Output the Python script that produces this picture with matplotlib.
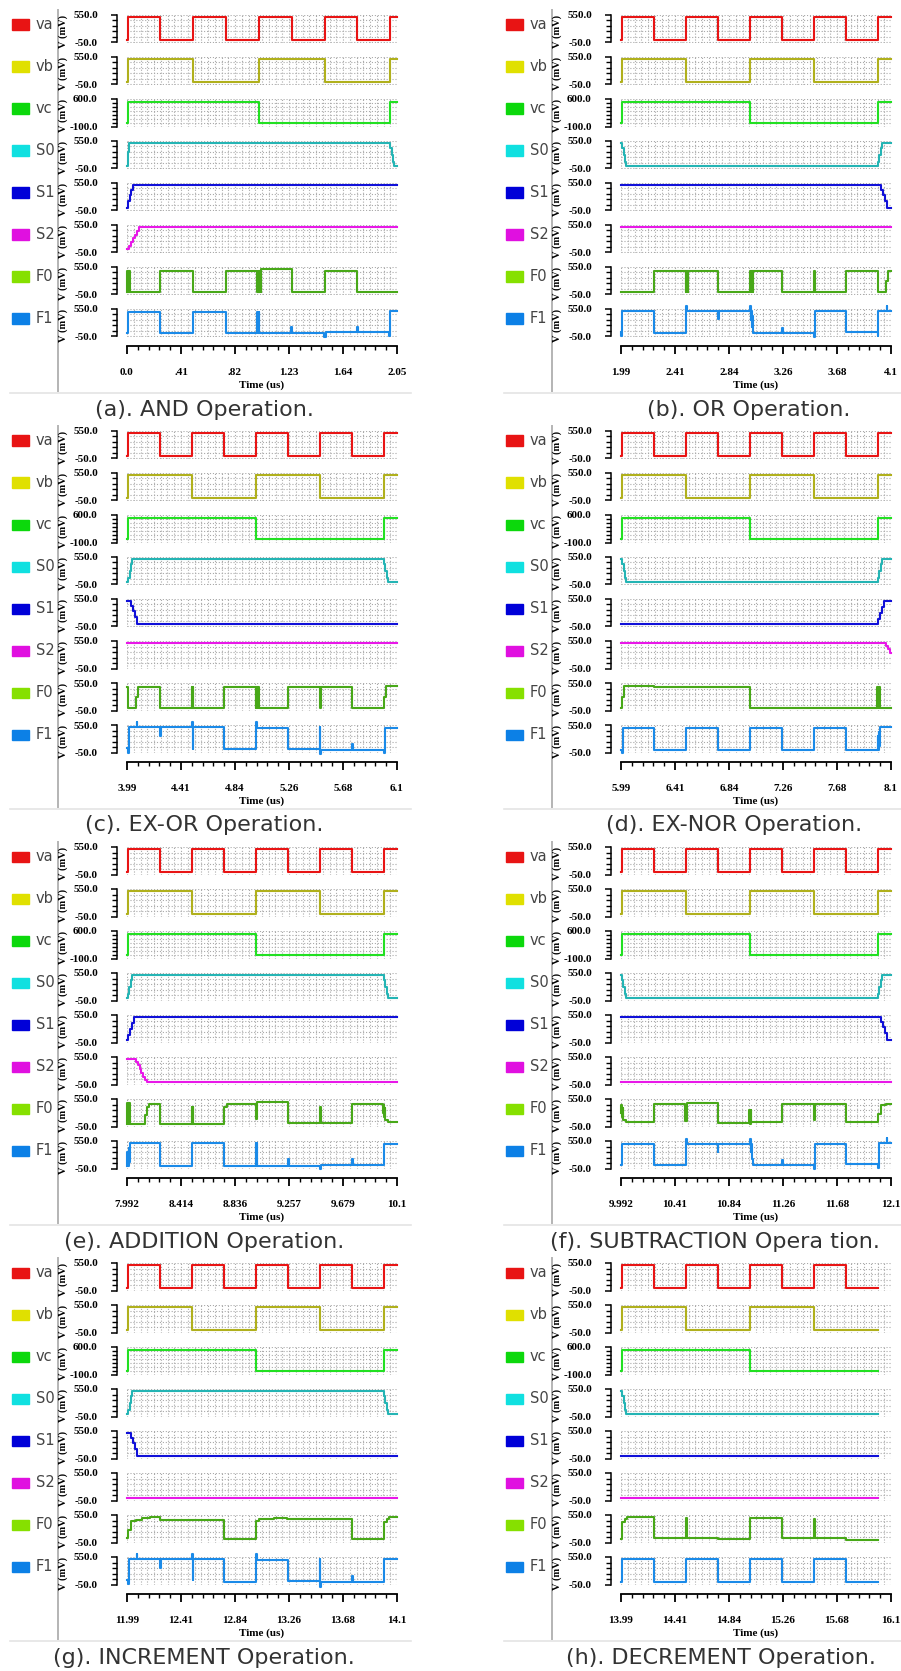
import matplotlib.pyplot as plt
from matplotlib.patches import Rectangle
from matplotlib.lines import Line2D
import numpy as np

W, H = 901, 1671

# ===== waveforms (time in us, level in mV), one continuous run 0..16 us =====
VA = [(0.0, 0), (0.005, 500), (0.25, 0), (0.5, 500), (0.75, 0), (1.0, 500), (1.25, 0), (1.5, 500), (1.75, 0),
      (2.0, 500), (2.25, 0), (2.5, 500), (2.75, 0), (3.0, 500), (3.25, 0), (3.5, 500), (3.75, 0),
      (4.0, 500), (4.25, 0), (4.5, 500), (4.75, 0), (5.0, 500), (5.25, 0), (5.5, 500), (5.75, 0),
      (6.0, 500), (6.25, 0), (6.5, 500), (6.75, 0), (7.0, 500), (7.25, 0), (7.5, 500), (7.75, 0),
      (8.0, 500), (8.25, 0), (8.5, 500), (8.75, 0), (9.0, 500), (9.25, 0), (9.5, 500), (9.75, 0),
      (10.0, 500), (10.25, 0), (10.5, 500), (10.75, 0), (11.0, 500), (11.25, 0), (11.5, 500), (11.75, 0),
      (12.0, 500), (12.25, 0), (12.5, 500), (12.75, 0), (13.0, 500), (13.25, 0), (13.5, 500), (13.75, 0),
      (14.0, 500), (14.25, 0), (14.5, 500), (14.75, 0), (15.0, 500), (15.25, 0), (15.5, 500), (15.75, 0),
      (16.0, 0)]
VB = [(0.0, 0), (0.005, 500), (0.5, 0), (1.0, 500), (1.5, 0), (2.0, 500), (2.5, 0), (3.0, 500), (3.5, 0),
      (4.0, 500), (4.5, 0), (5.0, 500), (5.5, 0), (6.0, 500), (6.5, 0), (7.0, 500), (7.5, 0),
      (8.0, 500), (8.5, 0), (9.0, 500), (9.5, 0), (10.0, 500), (10.5, 0), (11.0, 500), (11.5, 0),
      (12.0, 500), (12.5, 0), (13.0, 500), (13.5, 0), (14.0, 500), (14.5, 0), (15.0, 500), (15.5, 0),
      (16.0, 0)]
VC = [(0.0, 0), (0.005, 520), (1.0, 0), (2.0, 520), (3.0, 0), (4.0, 520), (5.0, 0), (6.0, 520), (7.0, 0),
      (8.0, 520), (9.0, 0), (10.0, 520), (11.0, 0), (12.0, 520), (13.0, 0), (14.0, 520), (15.0, 0),
      (16.0, 0)]
S0 = [(0.0, 0), (0.004, 300), (0.012, 500), (2.0, 400), (2.01, 250), (2.02, 100), (2.03, 0),
      (4.0, 100), (4.01, 250), (4.02, 400), (4.03, 500), (6.0, 400), (6.01, 250), (6.02, 100), (6.03, 0),
      (8.0, 100), (8.01, 250), (8.02, 400), (8.03, 500), (10.0, 400), (10.01, 250), (10.02, 100), (10.03, 0),
      (12.0, 100), (12.01, 250), (12.02, 400), (12.03, 500), (14.0, 400), (14.01, 250), (14.02, 100), (14.03, 0),
      (16.0, 0)]
S1 = [(0.0, 0), (0.01, 150), (0.02, 280), (0.03, 400), (0.045, 500),
      (4.02, 400), (4.035, 280), (4.05, 150), (4.065, 0),
      (8.0, 120), (8.015, 250), (8.03, 380), (8.045, 500),
      (12.02, 400), (12.035, 280), (12.05, 150), (12.065, 0), (16.0, 0)]
S2 = [(0.0, 20), (0.015, 100), (0.03, 180), (0.045, 260), (0.06, 340), (0.075, 420), (0.09, 500),
      (8.06, 450), (8.075, 370), (8.09, 280), (8.105, 200), (8.12, 120), (8.135, 50), (8.15, 0), (16.0, 0)]
F0 = [(0.0, 0), (0.002, 470), (0.006, 0), (0.01, 470), (0.014, 0), (0.018, 470), (0.021, 0),
      (0.25, 470), (0.5, 0), (0.75, 470),
      (0.99, 0), (0.994, 470), (0.998, 0), (1.002, 470), (1.006, 0), (1.01, 470), (1.014, 0), (1.02, 510),
      (1.25, 0), (1.5, 470), (1.75, 0), (2.25, 470),
      (2.495, 0), (2.499, 470), (2.503, 0), (2.507, 470), (2.511, 0), (2.515, 470), (2.75, 0),
      (3.0, 470), (3.004, 0), (3.008, 470), (3.012, 0), (3.016, 470), (3.02, 0), (3.024, 470),
      (3.25, 0), (3.497, 470), (3.503, 0), (3.75, 470), (4.0, 0), (4.06, 250), (4.075, 470),
      (4.25, 0), (4.495, 470), (4.5, 0), (4.504, 470), (4.508, 0), (4.75, 470),
      (4.995, 0), (5.0, 470), (5.004, 0), (5.008, 470), (5.012, 0), (5.016, 470), (5.02, 0),
      (5.25, 470), (5.497, 0), (5.503, 470), (5.75, 0),
      (6.0, 250), (6.015, 490), (6.25, 470), (7.0, 0),
      (7.994, 470), (7.997, 0), (8.0, 470), (8.004, 0), (8.008, 470), (8.012, 0),
      (8.13, 200), (8.145, 380), (8.16, 434), (8.25, 10),
      (8.497, 380), (8.501, 10), (8.504, 380), (8.508, 10),
      (8.75, 380), (8.77, 448), (8.998, 107), (9.005, 482), (9.25, 20), (9.497, 380), (9.503, 20),
      (9.75, 434), (9.99, 250), (9.995, 430), (10.0, 150), (10.005, 350), (10.01, 100), (10.03, 50),
      (10.25, 448), (10.495, 80), (10.505, 460), (10.75, 18),
      (10.995, 311), (11.0, 10), (11.004, 311), (11.008, 50),
      (11.25, 448), (11.495, 100), (11.505, 448), (11.75, 40),
      (12.0, 223), (12.02, 414), (12.06, 441), (12.11, 495), (12.17, 516), (12.25, 441),
      (12.75, 35), (13.0, 420), (13.02, 455), (13.14, 495), (13.24, 455), (13.75, 20),
      (14.0, 400), (14.02, 460), (14.04, 500), (14.25, 53), (14.497, 481), (14.503, 53), (14.75, 18),
      (15.0, 495), (15.25, 40), (15.497, 460), (15.503, 40), (15.75, 0), (16.0, 0)]
F1 = [(0.0, 20), (0.004, 493), (0.25, 20), (0.5, 493), (0.75, 20),
      (0.99, 490), (0.995, 20), (0.999, 490), (1.004, 20),
      (1.248, 148), (1.253, 20), (1.495, -60), (1.51, 40), (1.748, 148), (1.753, 40),
      (1.993, -30), (1.998, 500), (2.25, 20), (2.5, 620), (2.505, 500), (2.748, 324), (2.753, 500),
      (3.0, 620), (3.004, 300), (3.008, 500), (3.012, 150), (3.016, 400), (3.02, 20),
      (3.248, 140), (3.253, 20), (3.498, -70), (3.503, 500), (3.75, 40),
      (3.997, -50), (4.002, 500), (4.065, 615), (4.07, 500),
      (4.248, 317), (4.253, 500), (4.5, 615), (4.503, 35), (4.507, 500),
      (4.75, 30), (5.0, 615), (5.005, 480), (5.25, 35),
      (5.497, 508), (5.5, -90), (5.505, 0), (5.748, 140), (5.753, 0), (5.997, -70), (6.003, 494),
      (6.25, 0), (6.5, 481), (6.75, 0), (7.0, 481), (7.25, 0), (7.5, 481), (7.75, 0),
      (7.995, 300), (8.0, 0), (8.004, 400), (8.008, 100), (8.012, 500),
      (8.25, 6), (8.5, 500), (8.75, 6), (8.997, 500), (9.0, 6), (9.004, 500), (9.008, 6),
      (9.248, 162), (9.253, 6), (9.497, -71), (9.503, 20), (9.748, 148), (9.753, 20),
      (10.0, 494), (10.25, 21), (10.5, 600), (10.505, 494), (10.748, 317), (10.753, 494),
      (11.0, 600), (11.004, 300), (11.008, 494), (11.012, 150), (11.02, 21),
      (11.248, 141), (11.253, 21), (11.497, -71), (11.503, 480), (11.75, 40),
      (11.997, -30), (12.003, 500), (12.065, 620), (12.07, 500),
      (12.248, 311), (12.253, 507), (12.5, 622), (12.503, 44), (12.507, 507),
      (12.75, 8), (13.0, 622), (13.005, 480), (13.25, 35),
      (13.497, 507), (13.5, -100), (13.505, 8), (13.748, 145), (13.753, 8),
      (14.0, 500), (14.25, 6), (14.5, 500), (14.75, 6), (15.0, 500), (15.25, 6), (15.5, 500), (15.75, 6),
      (16.0, 6)]

SIGNALS = ["va", "vb", "vc", "S0", "S1", "S2", "F0", "F1"]
WAVES = [VA, VB, VC, S0, S1, S2, F0, F1]

# ===== panels =====
WINDOWS = [(0.0, 2.05), (1.99, 4.1), (3.99, 6.1), (5.99, 8.1),
           (7.992, 10.1), (9.992, 12.1), (11.99, 14.1), (13.99, 16.1)]
TICKLABELS = [["0.0", ".41", ".82", "1.23", "1.64", "2.05"],
              ["1.99", "2.41", "2.84", "3.26", "3.68", "4.1"],
              ["3.99", "4.41", "4.84", "5.26", "5.68", "6.1"],
              ["5.99", "6.41", "6.84", "7.26", "7.68", "8.1"],
              ["7.992", "8.414", "8.836", "9.257", "9.679", "10.1"],
              ["9.992", "10.41", "10.84", "11.26", "11.68", "12.1"],
              ["11.99", "12.41", "12.84", "13.26", "13.68", "14.1"],
              ["13.99", "14.41", "14.84", "15.26", "15.68", "16.1"]]
CAPTIONS = ["(a). AND Operation.", "(b). OR Operation.",
            "(c). EX-OR Operation.", "(d). EX-NOR Operation.",
            "(e). ADDITION Operation.", "(f). SUBTRACTION Opera tion.",
            "(g). INCREMENT Operation.", "(h). DECREMENT Operation."]
CAPTION_X = [204, 749, 204, 734, 204, 715, 204, 721]

SWATCH = ["#e81414", "#e0e000", "#0cd80c", "#10e0e0", "#0000d8", "#e010e0", "#86e000", "#0c80e6"]
TRACE = ["#e81414", "#b0b01c", "#22e022", "#24b4b4", "#1010d8", "#e818e8", "#48a818", "#1a8ae8"]
SERIF = "Liberation Serif"


def window(pts, t0, t1):
    ts, vs = [t0], [pts[0][1]]
    for t, v in pts:
        if t <= t0:
            vs[0] = v
        elif t < t1:
            ts.append(t)
            vs.append(v)
    ts.append(min(t1, pts[-1][0]))
    vs.append(vs[-1])
    return ts, vs


def box(x, y, w, h):
    # pixel box (top-left origin) -> figure fraction
    return [x / W, 1 - (y + h) / H, w / W, h / H]


fig = plt.figure(figsize=(W / 100, H / 100), dpi=100)
fig.patch.set_facecolor("white")

for k in range(8):
    X0 = (k % 2) * 494
    Y0 = (k // 2) * 416
    t0, t1 = WINDOWS[k]

    fig.add_artist(Line2D([(X0 + 57.5) / W] * 2, [1 - (Y0 + 10) / H, 1 - (Y0 + 391) / H],
                          color="#b4b4b4", lw=1.4))

    for i, name in enumerate(SIGNALS):
        top = Y0 + 15 + 42 * i
        lo, hi = (-100, 600) if name == "vc" else (-50, 550)
        nminor = 7 if name == "vc" else 5

        fig.add_artist(Rectangle(((X0 + 12) / W, 1 - (top + 14.5) / H), 17 / W, 10 / H,
                                 color=SWATCH[i], transform=fig.transFigure))
        fig.text((X0 + 36) / W, 1 - (top + 9.5) / H, name, fontsize=10.5, color="#454545",
                 ha="left", va="center", family="DejaVu Sans")
        fig.text((X0 + 63) / W, 1 - (top + 16) / H, "V (mV)", rotation=90, fontsize=7.5,
                 family=SERIF, weight="bold", ha="center", va="center")

        ax = fig.add_axes(box(X0 + 127, top, 270, 27.5))
        ax.patch.set_visible(False)
        ts, vs = window(WAVES[i], t0, t1)
        ax.step(ts, vs, where="post", color=TRACE[i], lw=1.5, clip_on=False, zorder=3)
        ax.set_xlim(t0, t1)
        ax.set_ylim(lo, hi)
        for s in ["top", "right", "bottom"]:
            ax.spines[s].set_visible(False)
        ax.spines["left"].set_position(("outward", 7.2))
        ax.spines["left"].set_linewidth(1.1)
        ax.set_yticks([lo, hi])
        ax.set_yticklabels([f"{lo:.1f}", f"{hi:.1f}"], fontsize=8, family=SERIF, weight="bold")
        ax.set_yticks(np.linspace(lo, hi, nminor + 1), minor=True)
        ax.tick_params(axis="y", which="major", direction="out", length=4.3, width=1.1, pad=9.5)
        ax.tick_params(axis="y", which="minor", direction="out", length=3.5, width=1.0)
        ax.set_xticks(np.linspace(t0, t1, 41))
        ax.tick_params(axis="x", length=0, labelbottom=False)
        ax.grid(True, axis="x", which="major", color="#aaaaaa", ls=":", lw=0.8)
        ax.grid(True, axis="y", which="both", color="#aaaaaa", ls=":", lw=0.8)

    tax = fig.add_axes(box(X0 + 127, Y0 + 345.5, 270, 0.5))
    tax.patch.set_visible(False)
    tax.set_xlim(t0, t1)
    tax.set_yticks([])
    for s in ["top", "right", "left"]:
        tax.spines[s].set_visible(False)
    tax.spines["bottom"].set_linewidth(1.3)
    tax.set_xticks(np.linspace(t0, t1, 6))
    tax.set_xticklabels(TICKLABELS[k], fontsize=8, family=SERIF, weight="bold")
    tax.set_xticks(np.linspace(t0, t1, 26), minor=True)
    tax.tick_params(axis="x", which="major", direction="out", length=5.5, width=1.3, pad=10.5)
    tax.tick_params(axis="x", which="minor", direction="out", length=3, width=1.0)

    fig.text((X0 + 262) / W, 1 - (Y0 + 385) / H, "Time (us)", fontsize=8, family=SERIF,
             weight="bold", ha="center", va="center")
    fig.add_artist(Line2D([(X0 + 10) / W, (X0 + 411) / W], [1 - (Y0 + 393) / H] * 2,
                          color="#e4e4e4", lw=1.2))
    fig.text(CAPTION_X[k] / W, 1 - (Y0 + 415.5) / H, CAPTIONS[k], fontsize=16, color="#333333",
             ha="center", va="baseline", family="DejaVu Sans")

fig.savefig("out.png", dpi=100)
